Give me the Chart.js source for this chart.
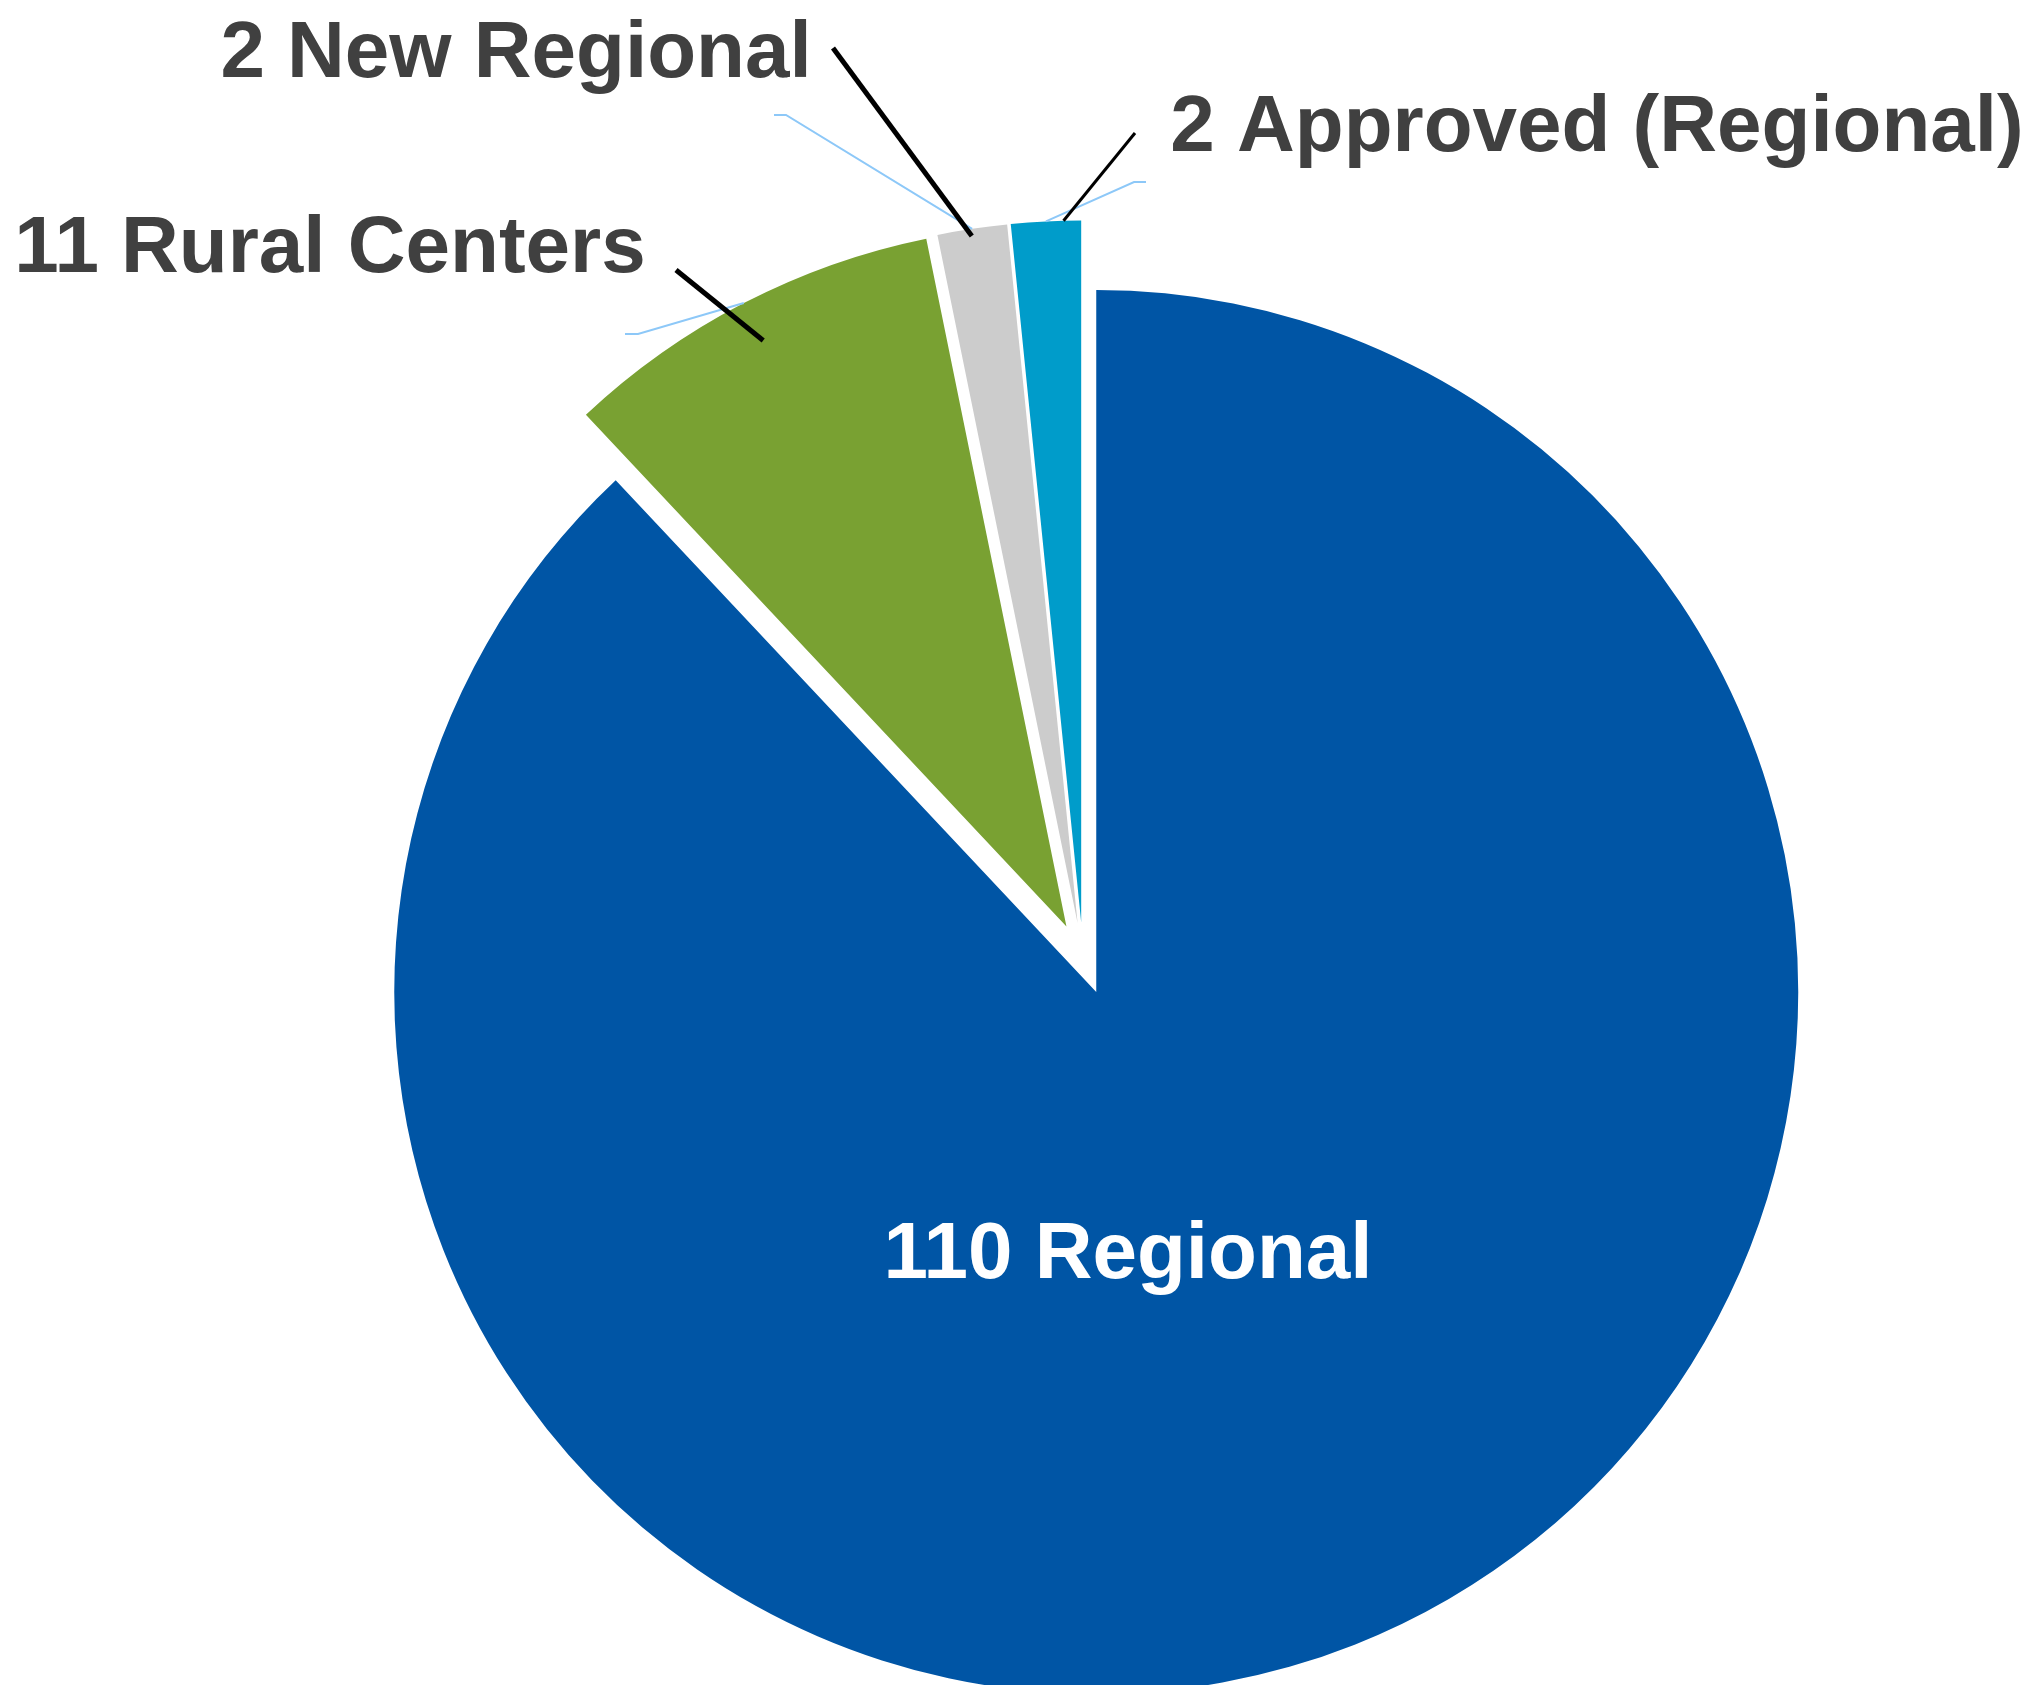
<!DOCTYPE html>
<html lang="en">
<head>
<meta charset="UTF-8">
<title>Regional and Rural Centers</title>
<script src="https://cdn.jsdelivr.net/npm/chart.js"></script>
<style>
  html, body { margin: 0; padding: 0; background: #ffffff; overflow: hidden; }
  .chart-box { position: relative; width: 2034px; height: 1685px; }
</style>
</head>
<body>
<div class="chart-box"><canvas id="centersChart"></canvas></div>
<script>
// Center counts by type
const categories = ['Regional', 'Rural Centers', 'New Regional', 'Approved (Regional)'];
const centerCounts = [110, 11, 2, 2];
const sliceColors = ['#0055A5', '#79A132', '#CCCCCC', '#009CCA'];

// how far every slice is pulled out from the middle (px)
const EXPLODE = 36;

// label text centre x / baseline y
const labelSpots = [
  { x: 1128, y: 1278, color: '#ffffff' },
  { x: 330, y: 272, color: '#404040' },
  { x: 516, y: 77, color: '#404040' },
  { x: 1597, y: 151, color: '#404040' }
];

// leader lines for the outside labels: t = position along the slice angle, k = fraction of radius
const leaders = [
  { slice: 1, from: [676, 270], t: 0.5, k: 0.94, width: 5, elbow: [[625, 334], [638, 334]] },
  { slice: 2, from: [833, 48], t: 0.48, k: 0.99, width: 5, elbow: [[774, 115], [786, 115]] },
  { slice: 3, from: [1135, 133], t: 0.75, k: 1.0, width: 3, elbow: [[1146, 182], [1134, 182]] }
];

function pointOnArc(arc, t, k) {
  const a = arc.startAngle + t * (arc.endAngle - arc.startAngle);
  const r = arc.outerRadius * k;
  return [arc.x + Math.cos(a) * r, arc.y + Math.sin(a) * r];
}

// push each slice outwards along its middle angle
const explodePlugin = {
  id: 'explode',
  afterDatasetUpdate(chart, args) {
    args.meta.data.forEach(arc => {
      const mid = (arc.startAngle + arc.endAngle) / 2;
      arc.x += Math.cos(mid) * EXPLODE;
      arc.y += Math.sin(mid) * EXPLODE;
    });
  }
};

// leader lines + data labels
const annotatePlugin = {
  id: 'annotate',
  afterDatasetsDraw(chart) {
    const ctx = chart.ctx;
    const arcs = chart.getDatasetMeta(0).data;
    ctx.save();

    ctx.strokeStyle = '#8DC8F8';
    ctx.lineWidth = 2;
    leaders.forEach(l => {
      const edge = pointOnArc(arcs[l.slice], 0.5, 1);
      ctx.beginPath();
      ctx.moveTo(l.elbow[0][0], l.elbow[0][1]);
      ctx.lineTo(l.elbow[1][0], l.elbow[1][1]);
      ctx.lineTo(edge[0], edge[1]);
      ctx.stroke();
    });

    ctx.strokeStyle = '#000000';
    ctx.lineCap = 'butt';
    leaders.forEach(l => {
      const end = pointOnArc(arcs[l.slice], l.t, l.k);
      ctx.lineWidth = l.width;
      ctx.beginPath();
      ctx.moveTo(l.from[0], l.from[1]);
      ctx.lineTo(end[0], end[1]);
      ctx.stroke();
    });

    ctx.font = 'bold 80px "Liberation Sans", Arial, sans-serif';
    ctx.textAlign = 'center';
    ctx.textBaseline = 'alphabetic';
    labelSpots.forEach((s, i) => {
      ctx.fillStyle = s.color;
      ctx.fillText(centerCounts[i] + ' ' + categories[i], s.x, s.y);
    });

    ctx.restore();
  }
};

new Chart(document.getElementById('centersChart'), {
  type: 'pie',
  data: {
    labels: categories,
    datasets: [{
      data: centerCounts,
      backgroundColor: sliceColors,
      borderWidth: 0,
      clip: false
    }]
  },
  options: {
    responsive: true,
    maintainAspectRatio: false,
    animation: false,
    layout: { padding: { left: 381, right: 249, top: 256.5, bottom: 24.5 } },
    plugins: {
      legend: { display: false },
      tooltip: { enabled: false }
    }
  },
  plugins: [explodePlugin, annotatePlugin]
});
</script>
</body>
</html>
